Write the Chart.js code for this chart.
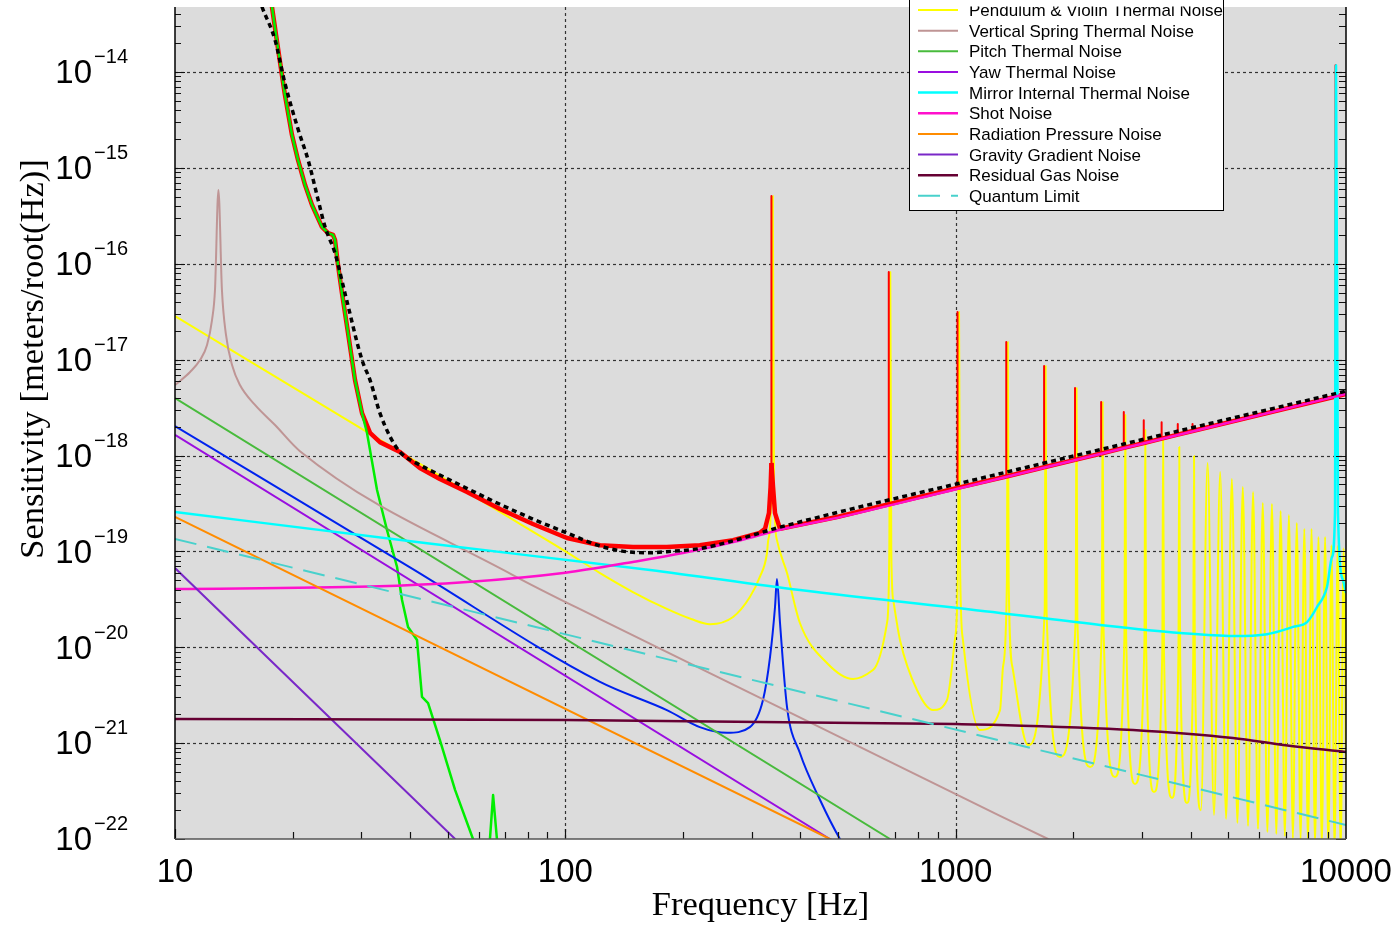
<!DOCTYPE html>
<html>
<head>
<meta charset="utf-8">
<title>Sensitivity</title>
<script src="https://cdn.jsdelivr.net/npm/chart.js@4.4.1/dist/chart.umd.min.js"></script>
<style>
  html, body { margin: 0; padding: 0; background: #ffffff; }
  canvas { display: block; }
</style>
</head>
<body>
<canvas id="sensitivity_chart" width="1399" height="934"></canvas>
<script>
"use strict";

// Axis ranges and tick labels
var xMin = 10, xMax = 10000;
var yMin = 1e-22, yMax = 4.77e-14;
var xTickValues = [10, 100, 1000, 10000];
var xTickLabels = ['10', '100', '1000', '10000'];
var xGridValues = [100, 1000];
var yTickExponents = [-22, -21, -20, -19, -18, -17, -16, -15, -14];

// Each series: [frequency Hz, sensitivity m/rtHz]
var seismicWall = [
    [17.51, 5.92e-14], [17.72, 4.77e-14], [18.15, 2.43e-14], [18.58, 1.27e-14], [19.13, 5.75e-15],
    [19.94, 2.2e-15], [20.66, 1.21e-15], [21.54, 6.62e-16], [22.44, 4.1e-16], [23.8, 2.42e-16],
    [24.66, 2.09e-16], [25.4, 2.0e-16], [25.7, 1.77e-16], [26.16, 9.7e-17], [26.78, 4.95e-17],
    [27.75, 1.9e-17], [28.91, 6.17e-18], [30.14, 2.77e-18]
];
var totalTail = [
    [31.6, 1.72e-18], [33.5, 1.38e-18], [37.7, 1.09e-18], [42.4, 7.41e-19], [47.7, 5.69e-19],
    [56.0, 4.16e-19], [68.0, 2.77e-19], [82.6, 1.93e-19], [101, 1.38e-19], [122.7, 1.16e-19],
    [149, 1.11e-19], [182, 1.11e-19], [221, 1.16e-19], [269, 1.31e-19], [315, 1.56e-19],
    [324.8, 1.72e-19], [332.4, 2.51e-19], [335.6, 4.69e-19], [337.3, 8.36e-19], [337.3, 5.09e-16],
    [337.3, 8.36e-19], [340.5, 4.69e-19], [344.5, 2.51e-19], [354.8, 1.72e-19], [500, 2.3e-19],
    [674, 3.1e-19], [674, 8.2e-17], [674, 3.1e-19],
    [1011, 4.6e-19], [1011, 3.14e-17], [1011, 4.6e-19],
    [1348, 6.05e-19], [1348, 1.53e-17], [1348, 6.05e-19],
    [1685, 7.55e-19], [1685, 8.57e-18], [1685, 7.55e-19],
    [2022, 9.0e-19], [2022, 5.06e-18], [2022, 9.0e-19],
    [2359, 1.05e-18], [2359, 3.61e-18], [2359, 1.05e-18],
    [2696, 1.2e-18], [2696, 2.84e-18], [2696, 1.2e-18],
    [3033, 1.35e-18], [3033, 2.34e-18], [3033, 1.35e-18],
    [3370, 1.5e-18], [3370, 2.23e-18], [3370, 1.5e-18],
    [3707, 1.65e-18], [3707, 2.13e-18], [3707, 1.65e-18],
    [4044, 1.8e-18], [4044, 2.13e-18], [4044, 1.8e-18],
    [9400, 4.12e-18], [9400, 1.18e-14], [9400, 4.12e-18], [10000, 4.4e-18]
];
var seismicTail = [
    [31.04, 1.72e-18], [32.93, 4.37e-19], [34.92, 1.67e-19], [37.06, 6.87e-20], [38.16, 3.11e-20],
    [39.54, 1.63e-20], [41.69, 1.19e-20], [42.93, 3.03e-21], [44.5, 2.62e-21], [47.7, 1.08e-21],
    [52.2, 3.24e-22], [58.0, 1e-22], [61, 5e-23], [64.1, 1e-22], [65.3, 2.87e-22], [66.8, 1e-22], [70, 3e-23]
];
var targetCurve = [
    [16.41, 5.9e-14], [16.7, 4.8e-14], [18.04, 2.16e-14], [19.13, 7.62e-15], [20.7, 2.48e-15],
    [21.93, 1.21e-15], [23.27, 4.62e-16], [24.23, 2.43e-16], [25.7, 1.29e-16], [27.26, 4.92e-17],
    [30.14, 9.9e-18], [31.6, 6.12e-18], [33.5, 2.77e-18], [35.6, 1.56e-18], [37.7, 1.09e-18],
    [42.4, 7.96e-19], [47.7, 6.27e-19], [55.9, 4.55e-19], [68.0, 3.1e-19], [82.7, 2.17e-19],
    [100.8, 1.56e-19], [122.7, 1.14e-19], [143.5, 9.93e-20], [164.8, 9.68e-20], [182, 9.93e-20],
    [221, 1.07e-19], [269, 1.29e-19], [354.8, 1.79e-19], [1353, 6.73e-19], [10000, 4.7e-18]
];
var rollNoise = [
    [10, 2.03e-18], [40, 6.8e-20], [122.7, 4.35e-21], [182, 2.21e-21], [221, 1.47e-21],
    [259.6, 1.28e-21], [297, 1.47e-21], [320.9, 2.82e-21], [334.5, 7.9e-21], [344.5, 2.63e-20],
    [348.5, 5.15e-20], [354.8, 1.79e-20], [369.8, 2.38e-21], [399, 7.88e-22], [449.4, 2.55e-22],
    [505.3, 1e-22], [600, 3.5e-23]
];

// Pendulum & violin: low-frequency slope, then the violin mode comb
var pendulumLow = [
    [10, 2.85e-17], [37.7, 1.09e-18], [68, 2.58e-19], [100.8, 9.84e-20], [122.7, 5.94e-20],
    [149, 3.77e-20], [182, 2.51e-20], [210, 1.97e-20], [234.8, 1.74e-20]
];
var violinFreq = [340, 680, 1020, 1360, 1700, 2040, 2380, 2720, 3060, 3400, 3740, 4080, 4420, 4760, 5100,
    5440, 5780, 6120, 6460, 6800, 7140, 7480, 7820, 8160, 8500, 8840, 9180, 9520, 9860];
var violinPeak = [5.09e-16, 8.2e-17, 3.14e-17, 1.53e-17, 8.57e-18, 5.06e-18, 3.61e-18, 2.64e-18, 1.85e-18,
    1.56e-18, 1.23e-18, 9.88e-19, 8.36e-19, 6.73e-19, 5.69e-19, 4.69e-19, 4.16e-19, 3.2e-19, 3.12e-19,
    2.64e-19, 2.39e-19, 1.98e-19, 1.71e-19, 1.71e-19, 1.41e-19, 1.41e-19, 1.16e-19, 1.14e-19, 1.08e-19];
var violinTrough = [
    [545.8, 4.67e-21], [874.8, 2.21e-21], [1154, 1.37e-21], [1532, 9.55e-22], [1851, 7.17e-22],
    [2209, 5.64e-22], [2560, 4.44e-22], [2881, 3.75e-22], [3222, 3.09e-22], [3584, 2.68e-22],
    [3914, 2.37e-22], [4250, 2.0e-22], [4590, 1.78e-22], [4930, 1.62e-22], [5270, 1.47e-22],
    [5610, 1.37e-22], [5950, 1.27e-22], [6290, 1.18e-22], [6630, 1.13e-22], [6970, 1.07e-22],
    [7310, 1.02e-22], [7650, 9.8e-23], [7990, 9.3e-23], [8330, 8.9e-23], [8670, 8.5e-23],
    [9010, 8.1e-23], [9350, 7.7e-23], [9690, 7.3e-23], [10000, 5e-22]
];
var violinLeft = [
    [[269, 2.07e-20], [297, 3.34e-20], [315, 5.41e-20], [328.6, 9.62e-20], [331, 1.31e-19], [337.5, 5e-19]],
    [[614, 5.79e-21], [667, 1.8e-20], [676, 1.0e-19]],
    [[950, 2.82e-21], [995, 1.19e-20], [1014, 8e-20]],
    [[1299, 2.21e-21], [1322, 6.2e-21], [1353, 5e-20]],
    [[1691, 2.5e-20]], [[2030, 2e-20]], [[2368, 1.6e-20]], [[2706, 1.3e-20]],
    [[3045, 1.1e-20]], [[3383, 9e-21]], [[3721, 8e-21]], [[4060, 7e-21]]
];
var violinRight = [
    [[342.5, 5e-19], [348.5, 1.31e-19], [369.8, 5.94e-20], [399, 1.79e-20], [468, 6.86e-21]],
    [[684, 1.0e-19], [693, 3e-20], [720, 1.19e-20], [796, 3.58e-21]],
    [[1026, 8e-20], [1044, 1.19e-20]],
    [[1367, 5e-20], [1400, 6e-21]],
    [[1709, 2.5e-20]], [[2050, 2e-20]], [[2392, 1.6e-20]], [[2734, 1.3e-20]],
    [[3075, 1.1e-20]], [[3417, 9e-21]], [[3759, 8e-21]], [[4100, 7e-21]]
];

var springNoise = [
    [10, 5.43e-18], [10.93, 7.43e-18], [11.59, 9.9e-18], [12.08, 1.42e-17], [12.44, 2.59e-17],
    [12.66, 5.32e-17], [12.92, 5.9e-16], [13.19, 5.32e-17], [13.51, 1.81e-17], [14.0, 8.79e-18],
    [14.67, 5.43e-18], [16.03, 3.37e-18], [18.04, 2.08e-18], [20.9, 1.11e-18], [73.4, 5.67e-20],
    [122.7, 1.97e-20], [1299, 1.74e-22], [1724, 1e-22], [2500, 4.8e-23]
];
var pitchNoise = [[10, 3.98e-18], [679, 1e-22], [1000, 3.8e-23]];
var yawNoise = [[10, 1.64e-18], [476, 1e-22], [700, 3.8e-23]];
var mirrorNoise = [
    [10, 2.58e-19], [43.7, 1.22e-19], [164.8, 6.4e-20], [399, 3.95e-20], [1299, 2.28e-20],
    [2344, 1.71e-20], [3757, 1.41e-20], [5134, 1.31e-20], [6276, 1.37e-20], [7315, 1.63e-20],
    [7945, 1.83e-20], [8430, 2.63e-20], [8938, 4.25e-20], [9207, 8.73e-20], [9371, 2.51e-19],
    [9428, 1.18e-14], [9538, 2.51e-19], [9823, 5.02e-20], [10000, 3.68e-20]
];
var shotNoise = [
    [10, 4.06e-20], [31.6, 4.3e-20], [56, 4.8e-20], [100, 6.0e-20], [150, 7.8e-20],
    [200, 9.6e-20], [280, 1.3e-19], [354.8, 1.68e-19], [500, 2.25e-19], [1000, 4.45e-19],
    [10000, 4.38e-18]
];
var radiationPressure = [[10, 2.29e-19], [476, 1e-22], [700, 4.6e-23]];
var gravityGradient = [[10, 6.71e-20], [52.2, 1e-22], [80, 1.8e-23]];
var residualGas = [
    [10, 1.79e-21], [100, 1.74e-21], [1000, 1.58e-21], [1299, 1.55e-21], [2846, 1.37e-21],
    [5134, 1.13e-21], [7000, 9.5e-22], [10000, 8.07e-22]
];
var quantumLimit = [[10, 1.35e-19], [10000, 1.4e-22]];

// build the pendulum/violin series from its pieces
var pendulumViolin = pendulumLow.slice();
violinFreq.forEach(function (f, i) {
    (violinLeft[i] || []).forEach(function (p) { pendulumViolin.push(p); });
    pendulumViolin.push([f, violinPeak[i]]);
    (violinRight[i] || []).forEach(function (p) { pendulumViolin.push(p); });
    pendulumViolin.push(violinTrough[i]);
});

function toPoints(pairs) {
    return pairs.map(function (p) { return { x: p[0], y: p[1] }; });
}

function series(label, pairs, color, width, order, extra) {
    var ds = {
        label: label,
        data: toPoints(pairs),
        borderColor: color,
        backgroundColor: color,
        borderWidth: width,
        pointRadius: 0,
        fill: false,
        clip: 0,
        order: order,
        borderJoinStyle: 'round',
        capBezierPoints: false
    };
    return Object.assign(ds, extra || {});
}

var smooth = { cubicInterpolationMode: 'monotone' };

// the thick total-noise line gets thin where it jumps straight up into a resonance
var thinSpikes = {
    segment: {
        borderWidth: function (ctx) {
            return Math.abs(ctx.p1.x - ctx.p0.x) < 0.5 ? 2 : undefined;
        }
    }
};

// order: higher numbers are painted first (further back)
var datasets = [
    series('Total Noise', seismicWall.concat(totalTail), '#ff0000', 4.5, 13, thinSpikes),
    series('Target Sensitivity', targetCurve, '#000000', 3.5, 0, { borderDash: [5, 4], cubicInterpolationMode: 'monotone' }),
    series('Seismic Noise', seismicWall.concat(seismicTail), '#00ee00', 2.5, 12),
    series('Roll Thermal Noise', rollNoise, '#0022ee', 2, 11, smooth),
    series('Pendulum & Violin Thermal Noise', pendulumViolin, '#ffff00', 2, 14, smooth),
    series('Vertical Spring Thermal Noise', springNoise, '#bf9595', 2, 9, smooth),
    series('Pitch Thermal Noise', pitchNoise, '#48bb3c', 2, 8),
    series('Yaw Thermal Noise', yawNoise, '#9a0ee0', 2, 7),
    series('Mirror Internal Thermal Noise', mirrorNoise, '#00ffff', 2.5, 6, smooth),
    series('Shot Noise', shotNoise, '#ff10cc', 2.5, 5, smooth),
    series('Radiation Pressure Noise', radiationPressure, '#ff8c00', 2, 4),
    series('Gravity Gradient Noise', gravityGradient, '#7a28c8', 2, 3),
    series('Residual Gas Noise', residualGas, '#660033', 2.5, 2, smooth),
    series('Quantum Limit', quantumLimit, '#48d1cc', 2, 1, { borderDash: [22, 11] })
];

// Frame, grid, ticks, labels and the (top-clipped) legend
var framePlugin = {
    id: 'frame',
    beforeDatasetsDraw: function (chart) {
        var ctx = chart.ctx, a = chart.chartArea, xs = chart.scales.x, ys = chart.scales.y;
        ctx.save();
        ctx.fillStyle = '#dcdcdc';
        ctx.fillRect(a.left, a.top, a.right - a.left, a.bottom - a.top);
        ctx.strokeStyle = '#333333';
        ctx.lineWidth = 1.2;
        ctx.setLineDash([3, 3]);
        yTickExponents.slice(1).forEach(function (e) {
            var py = Math.round(ys.getPixelForValue(Math.pow(10, e))) + 0.5;
            ctx.beginPath(); ctx.moveTo(a.left, py); ctx.lineTo(a.right, py); ctx.stroke();
        });
        xGridValues.forEach(function (v) {
            var px = Math.round(xs.getPixelForValue(v)) + 0.5;
            ctx.beginPath(); ctx.moveTo(px, a.top); ctx.lineTo(px, a.bottom); ctx.stroke();
        });
        ctx.restore();
    },
    afterDatasetsDraw: function (chart) {
        var ctx = chart.ctx, a = chart.chartArea, xs = chart.scales.x, ys = chart.scales.y;
        ctx.save();
        ctx.strokeStyle = '#111111';
        ctx.lineWidth = 1.2;
        // y minor/major ticks, both sides, pointing inward
        for (var e = -22; e <= -14; e++) {
            for (var m = 1; m <= 9; m++) {
                var v = m * Math.pow(10, e);
                if (v > yMax * 1.0001) continue;
                var py = Math.round(ys.getPixelForValue(v)) + 0.5;
                var lenL = m === 1 ? 10 : 6, lenR = m === 1 ? 10 : 7;
                ctx.beginPath();
                ctx.moveTo(a.left, py); ctx.lineTo(a.left + lenL, py);
                ctx.moveTo(a.right, py); ctx.lineTo(a.right - lenR, py);
                ctx.stroke();
            }
        }
        // x ticks on the bottom edge
        for (var d = 1; d <= 3; d++) {
            for (var k = 1; k <= 9; k++) {
                var f = k * Math.pow(10, d);
                var px = Math.round(xs.getPixelForValue(f)) + 0.5;
                ctx.beginPath();
                ctx.moveTo(px, a.bottom); ctx.lineTo(px, a.bottom - (k === 1 ? 10 : 7));
                ctx.stroke();
            }
        }
        // axis lines
        ctx.lineWidth = 1.5;
        ctx.strokeStyle = '#000000';
        ctx.beginPath();
        ctx.moveTo(a.left, a.top); ctx.lineTo(a.left, a.bottom);
        ctx.moveTo(a.right, a.top); ctx.lineTo(a.right, a.bottom);
        ctx.stroke();
        ctx.strokeStyle = '#555555';
        ctx.beginPath();
        ctx.moveTo(a.left, a.bottom); ctx.lineTo(a.right, a.bottom);
        ctx.stroke();
        ctx.restore();
    },
    afterDraw: function (chart) {
        var ctx = chart.ctx, a = chart.chartArea, xs = chart.scales.x, ys = chart.scales.y;
        ctx.save();
        ctx.fillStyle = '#000000';

        // y tick labels: 10 with superscript exponent
        yTickExponents.forEach(function (e) {
            var py = ys.getPixelForValue(Math.pow(10, e));
            var sup = '\u2212' + Math.abs(e);
            ctx.textAlign = 'right';
            ctx.textBaseline = 'alphabetic';
            ctx.font = '20px "Liberation Sans", Arial, sans-serif';
            ctx.fillText(sup, 128, py - 8.7);
            var supW = ctx.measureText(sup).width;
            ctx.font = '33px "Liberation Sans", Arial, sans-serif';
            ctx.fillText('10', 128 - supW - 2, py + 11.3);
        });

        // x tick labels
        ctx.textAlign = 'center';
        ctx.font = '33px "Liberation Sans", Arial, sans-serif';
        xTickValues.forEach(function (v, i) {
            ctx.fillText(xTickLabels[i], xs.getPixelForValue(v), 882);
        });

        // axis titles
        ctx.font = '34.5px "Liberation Serif", "Times New Roman", serif';
        ctx.fillText('Frequency [Hz]', (a.left + a.right) / 2, 915);
        ctx.save();
        ctx.translate(43, 359);
        ctx.rotate(-Math.PI / 2);
        ctx.textAlign = 'center';
        ctx.fillText('Sensitivity [meters/root(Hz)]', 0, 0);
        ctx.restore();

        // legend box, its upper rows run off the top of the figure
        var rowGap = 20.65, firstVisible = 10, hidden = 4;
        var boxL = 909.5, boxR = 1223.5, boxB = 210.5;
        var boxT = firstVisible - hidden * rowGap - 14;
        ctx.fillStyle = '#ffffff';
        ctx.fillRect(boxL, boxT, boxR - boxL, boxB - boxT);
        ctx.strokeStyle = '#000000';
        ctx.lineWidth = 1;
        ctx.strokeRect(boxL, boxT, boxR - boxL, boxB - boxT);
        ctx.save();
        ctx.beginPath();
        ctx.rect(0, 6.5, chart.width, chart.height);
        ctx.clip();
        ctx.textAlign = 'left';
        ctx.font = '17px "Liberation Sans", Arial, sans-serif';
        chart.data.datasets.forEach(function (ds, i) {
            var y = firstVisible + (i - hidden) * rowGap;
            ctx.save();
            ctx.strokeStyle = ds.borderColor;
            ctx.lineWidth = Math.min(ds.borderWidth, 2.5);
            ctx.setLineDash(ds.borderDash || []);
            ctx.beginPath(); ctx.moveTo(918, y); ctx.lineTo(958, y); ctx.stroke();
            ctx.restore();
            ctx.fillStyle = '#000000';
            ctx.fillText(ds.label, 969, y + 6);
        });
        ctx.restore();
        ctx.restore();
    }
};

var SensitivityChart = function () {
    var initSensitivityChart = function () {
        var element = document.getElementById('sensitivity_chart');
        if (!element) {
            return;
        }
        var config = {
            type: 'line',
            data: { datasets: datasets },
            options: {
                responsive: false,
                animation: false,
                events: [],
                layout: { padding: { top: 7, right: 53, left: 0, bottom: 0 } },
                scales: {
                    x: {
                        type: 'logarithmic',
                        min: xMin,
                        max: xMax,
                        ticks: { display: false },
                        grid: { display: false },
                        border: { display: false },
                        afterFit: function (scale) { scale.height = 95; }
                    },
                    y: {
                        type: 'logarithmic',
                        min: yMin,
                        max: yMax,
                        ticks: { display: false },
                        grid: { display: false },
                        border: { display: false },
                        afterFit: function (scale) { scale.width = 175; }
                    }
                },
                plugins: {
                    legend: { display: false },
                    tooltip: { enabled: false }
                }
            },
            plugins: [framePlugin]
        };
        element.chartInstance = new Chart(element.getContext('2d'), config);
    };

    return {
        init: function () {
            initSensitivityChart();
        }
    };
}();

document.addEventListener('DOMContentLoaded', function () {
    SensitivityChart.init();
});
</script>
</body>
</html>
